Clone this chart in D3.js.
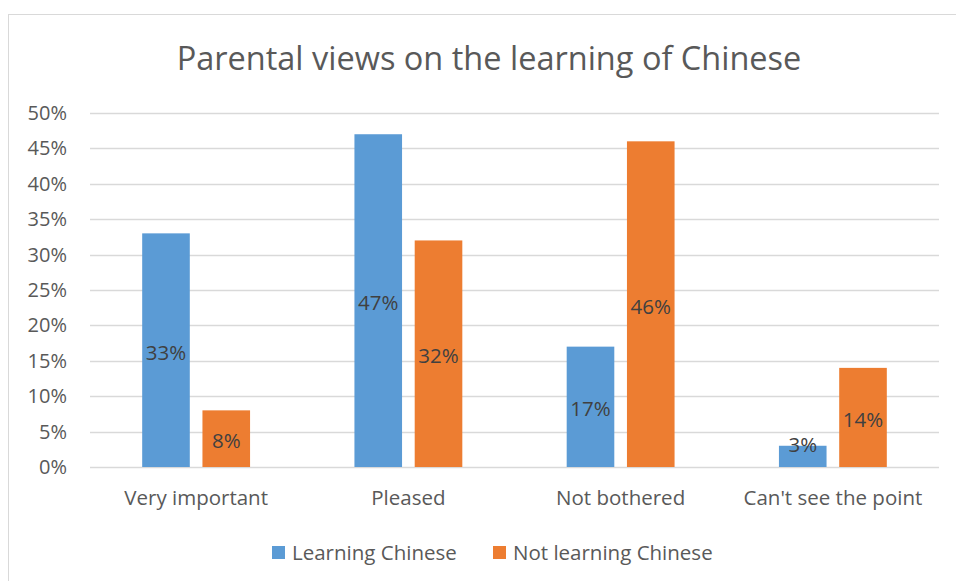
<!DOCTYPE html>
<html><head><meta charset="utf-8">
<script src="https://cdn.jsdelivr.net/npm/d3@7"></script>
<style>body{margin:0;background:#fff}svg{display:block}text{font-family:"Open Sans",sans-serif}</style>
</head><body>
<script>
const categories = ["Very important", "Pleased", "Not bothered", "Can't see the point"];
const seriesNames = ["Learning Chinese", "Not learning Chinese"];
const learning = [33, 47, 17, 3];
const notLearning = [8, 32, 46, 14];
const yTicks = [0, 5, 10, 15, 20, 25, 30, 35, 40, 45, 50];
const colors = ["#5B9BD5", "#ED7D31"];
const title = "Parental views on the learning of Chinese";

const W = 956, H = 581;
const svg = d3.select("body").append("svg").attr("width", W).attr("height", H);
svg.append("rect").attr("x", 8.5).attr("y", 14.5).attr("width", W).attr("height", H)
  .attr("fill", "#fff").attr("stroke", "#d9d9d9").attr("stroke-width", 1);

const x0 = d3.scaleBand().domain(categories).range([90, 939]).paddingInner(0).paddingOuter(0);
const x1 = d3.scaleBand().domain(seriesNames).range([0, x0.bandwidth()]).paddingInner(0.21).paddingOuter(0.866);
const y = d3.scaleLinear().domain([0, 50]).range([467, 113]);

svg.append("text").attr("x", 489).attr("y", 70).attr("text-anchor", "middle")
  .attr("font-size", 32.5).attr("fill", "#595959").text(title);

// gridlines
svg.append("g").selectAll("line").data(yTicks).join("line")
  .attr("x1", 90).attr("x2", 939).attr("y1", d => Math.round(y(d)) + 0.5).attr("y2", d => Math.round(y(d)) + 0.5)
  .attr("stroke", "#d9d9d9").attr("stroke-width", 1.3);

// y axis labels
const yAxis = d3.axisLeft(y).tickValues(yTicks).tickFormat(d => d + "%").tickSize(0).tickPadding(0);
const ga = svg.append("g").attr("transform", "translate(67,0)").call(yAxis);
ga.select(".domain").remove();
ga.selectAll("text").attr("font-size", 20).attr("fill", "#595959").attr("font-family", "Open Sans, sans-serif");

// x axis labels
const xAxis = d3.axisBottom(x0).tickSize(0).tickPadding(0);
const gx = svg.append("g").attr("transform", "translate(0,490)").call(xAxis);
gx.select(".domain").remove();
gx.selectAll("text").attr("font-size", 20.5).attr("fill", "#595959").attr("font-family", "Open Sans, sans-serif");

const rows = categories.map((c, i) => ({cat: c, vals: [learning[i], notLearning[i]]}));
const groups = svg.append("g").selectAll("g").data(rows).join("g")
  .attr("transform", d => `translate(${x0(d.cat)},0)`);
groups.selectAll("rect").data(d => d.vals.map((v, j) => ({s: seriesNames[j], v, j}))).join("rect")
  .attr("x", d => x1(d.s)).attr("width", x1.bandwidth())
  .attr("y", d => y(d.v)).attr("height", d => y(0) - y(d.v))
  .attr("fill", d => colors[d.j]);
groups.selectAll("text.lbl").data(d => d.vals.map((v, j) => ({s: seriesNames[j], v, j}))).join("text")
  .attr("class", "lbl")
  .attr("x", d => x1(d.s) + x1.bandwidth() / 2)
  .attr("y", d => Math.min((y(d.v) + y(0)) / 2, y(0) - 25) + 9.5)
  .attr("text-anchor", "middle").attr("font-size", 20.5).attr("fill", "#404040")
  .text(d => d.v + "%");

// legend
const leg = svg.append("g");
const legX = [272, 493];
seriesNames.forEach((s, i) => {
  leg.append("rect").attr("x", legX[i]).attr("y", 546).attr("width", 13).attr("height", 13).attr("fill", colors[i]);
  leg.append("text").attr("x", legX[i] + 20).attr("y", 559.5).attr("font-size", 20.5).attr("fill", "#595959").text(s);
});
</script>
</body></html>
